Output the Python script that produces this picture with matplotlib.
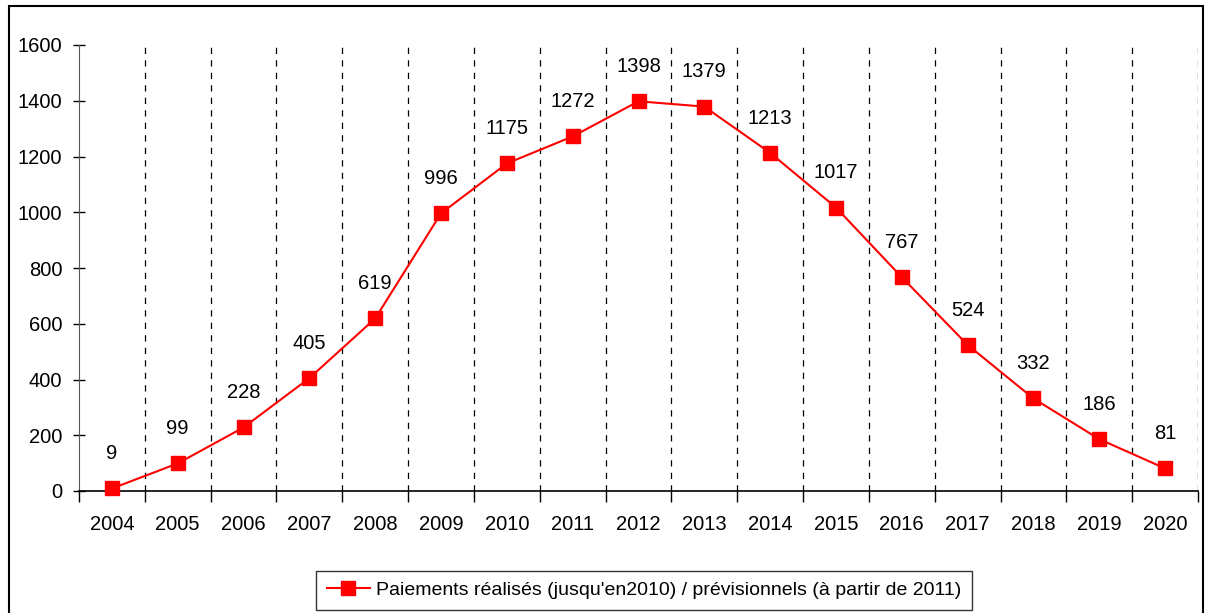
#!/usr/bin/env python3
import numpy as np
import matplotlib
matplotlib.use("Agg")
import matplotlib.pyplot as plt
from matplotlib.patches import Rectangle

# ----------------------------------------------------------------------
# data
# ----------------------------------------------------------------------
years = ['2004', '2005', '2006', '2007', '2008', '2009', '2010', '2011', '2012',
         '2013', '2014', '2015', '2016', '2017', '2018', '2019', '2020']
paiements = [9, 99, 228, 405, 619, 996, 1175, 1272, 1398,
             1379, 1213, 1017, 767, 524, 332, 186, 81]
yticks = [0, 200, 400, 600, 800, 1000, 1200, 1400, 1600]
label = "Paiements réalisés (jusqu'en2010) / prévisionnels (à partir de 2011)"

plt.rcParams['font.family'] = ['Liberation Sans', 'DejaVu Sans']
fs = 14.5

fig = plt.figure(figsize=(12.07, 6.13), dpi=100)
ax = fig.add_axes([79 / 1207, 1 - 491 / 613, (1198 - 79) / 1207, (491 - 45) / 613])

x = np.arange(len(years))
ax.plot(x, paiements, color='#ff0000', lw=1.5, marker='s', ms=10.5,
        markeredgecolor='#ff0000', label=label, clip_on=False, zorder=3)

for xi, v in zip(x, paiements):
    ax.annotate(str(v), (xi, v), xytext=(0, 25), textcoords='offset points',
                ha='center', va='center', fontsize=fs)

# dashed separators between categories
for b in np.arange(len(years)) + 0.5:
    ax.plot([b, b], [0, 1600], color='black', lw=0.9, ls=(0, (5, 5)), zorder=1)

ax.set_xlim(-0.5, len(years) - 0.5)
ax.set_ylim(0, 1600)
ax.set_xticks(x)
ax.set_xticklabels(years, fontsize=fs)
ax.set_xticks(np.arange(len(years) + 1) - 0.5, minor=True)
ax.tick_params(axis='x', which='major', length=0, pad=17)
ax.tick_params(axis='x', which='minor', length=8, direction='out', width=1)
ax.set_yticks(yticks)
ax.set_yticklabels([str(t) for t in yticks], fontsize=fs)
ax.tick_params(axis='y', length=8, direction='inout', width=1, pad=8)

for s in ['top', 'right']:
    ax.spines[s].set_visible(False)
ax.spines['left'].set_color('#555555')
ax.spines['bottom'].set_linewidth(1.2)

leg = fig.legend(loc='center', bbox_to_anchor=(644 / 1207, 1 - 590 / 613),
                 fontsize=14, frameon=True, fancybox=False, handlelength=2.2,
                 borderpad=0.55, handletextpad=0.3)
leg.get_frame().set_edgecolor('black')
leg.get_frame().set_linewidth(1.0)

# outer chart border
fig.patches.append(Rectangle((9 / 1207, -0.01), (1203 - 9) / 1207, 1 - 6 / 613 + 0.01,
                             transform=fig.transFigure, fill=False,
                             edgecolor='black', lw=1.5))

fig.savefig('out.png', dpi=100)
plt.close()
